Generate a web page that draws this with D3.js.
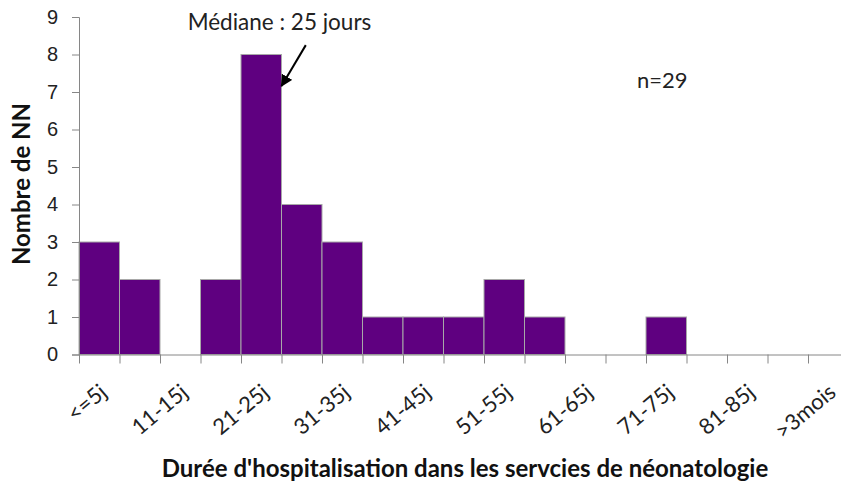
<!DOCTYPE html>
<html>
<head>
<meta charset="utf-8">
<script src="https://cdn.jsdelivr.net/npm/d3@7"></script>
<style>
  body { margin: 0; background: #fff; }
  svg { display: block; font-family: Lato, "Open Sans", sans-serif; }
</style>
</head>
<body>
<script>
var categories = ["<=5j", "6-10j", "11-15j", "16-20j", "21-25j", "26-30j", "31-35j", "36-40j", "41-45j", "46-50j",
  "51-55j", "56-60j", "61-65j", "66-70j", "71-75j", "76-80j", "81-85j", "86-90j", ">3mois"];
var counts = [3, 2, 0, 2, 8, 4, 3, 1, 1, 1, 2, 1, 0, 0, 1, 0, 0, 0, 0];
var yTicks = [0, 1, 2, 3, 4, 5, 6, 7, 8, 9];

var width = 841, height = 486;

var svg = d3.select("body").append("svg")
  .attr("width", width)
  .attr("height", height);

var x = d3.scaleLinear().domain([0, categories.length]).range([79, 848.5]);
var y = d3.scaleLinear().domain([0, 9]).range([354.5, 17]);

// bars
svg.selectAll(".bar")
  .data(counts)
  .enter().append("rect")
  .attr("class", "bar")
  .attr("x", function(d, i) { return x(i); })
  .attr("width", function(d, i) { return x(i + 1) - x(i); })
  .attr("y", function(d) { return y(d); })
  .attr("height", function(d) { return y(0) - y(d); })
  .attr("fill", "#5f0080")
  .attr("stroke", "#a8a8a8")
  .attr("stroke-width", 1)
  .style("display", function(d) { return d > 0 ? null : "none"; });

// y axis
var yAxis = svg.append("g")
  .attr("transform", "translate(" + x(0) + ",0)")
  .call(d3.axisLeft(y).tickValues(yTicks).tickSize(7).tickPadding(14).tickFormat(d3.format("d")));
yAxis.select(".domain").attr("stroke", "#868686");
yAxis.selectAll(".tick line").attr("stroke", "#868686");
yAxis.selectAll(".tick text").attr("font-size", 20).attr("fill", "#222");

// x axis, ticks at the bin edges
var xAxis = svg.append("g")
  .attr("transform", "translate(0," + y(0) + ")")
  .call(d3.axisBottom(x).tickValues(d3.range(categories.length + 1)).tickSize(9).tickSizeOuter(0).tickFormat(""));
xAxis.select(".domain").attr("stroke", "#868686");
xAxis.selectAll(".tick line").attr("stroke", "#868686");

// category labels (every other one, like the original)
svg.selectAll(".xlab")
  .data(categories)
  .enter().filter(function(d, i) { return i % 2 === 0; })
  .append("text")
  .attr("class", "xlab")
  .attr("transform", function(d) {
    var i = categories.indexOf(d);
    return "translate(" + (x(i + 0.5) + 9) + "," + (y(0) + 40) + ") rotate(-40)";
  })
  .attr("text-anchor", "end")
  .attr("font-size", 22)
  .attr("fill", "#222")
  .text(function(d) { return d; });

// axis titles
svg.append("text")
  .attr("x", 465)
  .attr("y", 477)
  .attr("text-anchor", "middle")
  .attr("font-weight", "bold")
  .attr("font-size", 24)
  .attr("fill", "#111")
  .text("Durée d'hospitalisation dans les servcies de néonatologie");

svg.append("text")
  .attr("transform", "translate(30,184) rotate(-90)")
  .attr("text-anchor", "middle")
  .attr("font-weight", "bold")
  .attr("font-size", 24)
  .attr("fill", "#111")
  .text("Nombre de NN");

// annotations
svg.append("defs").append("marker")
  .attr("id", "arrow")
  .attr("viewBox", "0 0 10 10")
  .attr("refX", 9).attr("refY", 5)
  .attr("markerWidth", 6).attr("markerHeight", 6)
  .attr("orient", "auto")
  .append("path")
  .attr("d", "M0,0 L10,5 L0,10 z")
  .attr("fill", "#000");

svg.append("line")
  .attr("x1", x(5.6)).attr("y1", y(8.25))
  .attr("x2", x(5.0)).attr("y2", y(7.16))
  .attr("stroke", "#000")
  .attr("stroke-width", 2)
  .attr("marker-end", "url(#arrow)");

svg.append("text")
  .attr("x", x(4.95))
  .attr("y", y(8.65))
  .attr("text-anchor", "middle")
  .attr("font-size", 22.5)
  .attr("fill", "#222")
  .text("Médiane : 25 jours");

svg.append("text")
  .attr("x", x(14.4))
  .attr("y", y(7.1))
  .attr("text-anchor", "middle")
  .attr("font-size", 22)
  .attr("fill", "#222")
  .text("n=29");
</script>
</body>
</html>
